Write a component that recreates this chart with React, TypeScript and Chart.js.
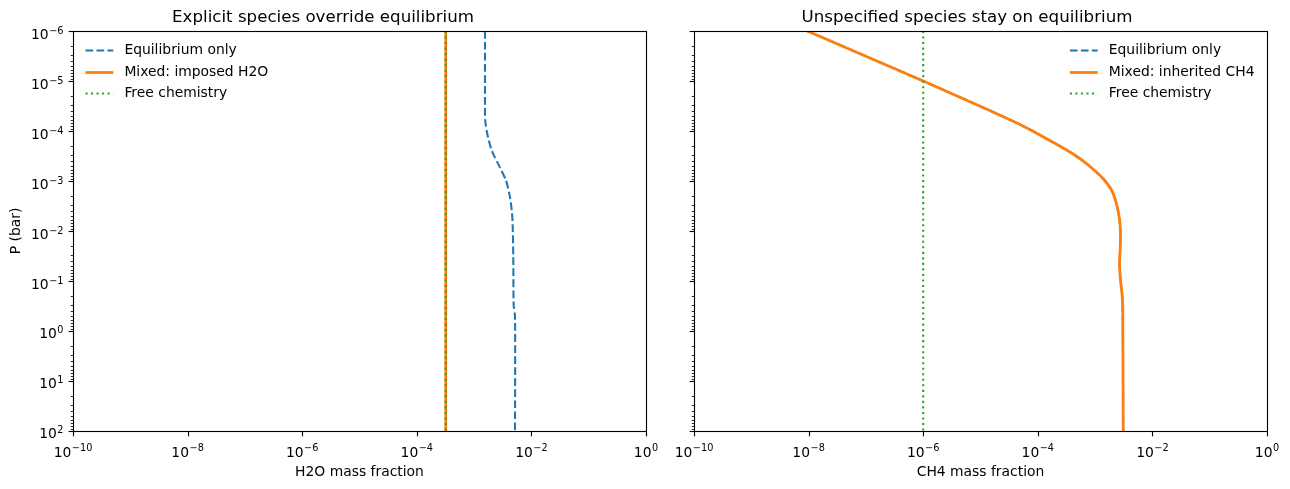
import React, { useEffect, useRef } from 'react';
import { Chart, registerables } from 'chart.js';

Chart.register(...registerables);

const FONT = 'DejaVu Sans';

// ---------- Data ----------
// Left panel: H2O mass fraction vs pressure (bar)
const h2oEqPressure = [1e-6, 3e-5, 6e-5, 1.15e-4, 2.45e-4, 5.4e-4, 9.8e-4, 2.1e-3, 5.4e-3, 3.3e-2, 0.3, 0.52, 100];
const h2oEqFraction = [1.55e-3, 1.55e-3, 1.56e-3, 1.7e-3, 2.03e-3, 2.83e-3, 3.61e-3, 4.23e-3, 4.65e-3, 4.83e-3, 4.9e-3, 5.18e-3, 5.18e-3];
const h2oImposedPressure = [1e-6, 100];
const h2oImposedFraction = [3.2e-4, 3.2e-4];
const h2oFreePressure = [1e-6, 100];
const h2oFreeFraction = [3.2e-4, 3.2e-4];

// Right panel: CH4 mass fraction vs pressure (bar)
const ch4EqPressure = [1e-6, 1e-5, 3.9e-5, 7.9e-5, 1.82e-4, 3.16e-4, 5.0e-4, 8.7e-4, 1.48e-3, 2.75e-3, 5.9e-3, 1.1e-2, 2.34e-2, 4.4e-2, 9.3e-2, 0.2, 0.37, 100];
const ch4EqFraction = [9.5e-9, 1e-6, 1.45e-5, 5.5e-5, 2.09e-4, 4.68e-4, 7.94e-4, 1.35e-3, 1.91e-3, 2.34e-3, 2.67e-3, 2.77e-3, 2.74e-3, 2.67e-3, 2.77e-3, 2.97e-3, 3.04e-3, 3.09e-3];
const ch4MixedPressure = [1e-6, 1e-5, 3.9e-5, 7.9e-5, 1.82e-4, 3.16e-4, 5.0e-4, 8.7e-4, 1.48e-3, 2.75e-3, 5.9e-3, 1.1e-2, 2.34e-2, 4.4e-2, 9.3e-2, 0.2, 0.37, 100];
const ch4MixedFraction = [9.5e-9, 1e-6, 1.45e-5, 5.5e-5, 2.09e-4, 4.68e-4, 7.94e-4, 1.35e-3, 1.91e-3, 2.34e-3, 2.67e-3, 2.77e-3, 2.74e-3, 2.67e-3, 2.77e-3, 2.97e-3, 3.04e-3, 3.09e-3];
const ch4FreePressure = [1e-6, 100];
const ch4FreeFraction = [1e-6, 1e-6];

// Text
const leftTitle = 'Explicit species override equilibrium';
const rightTitle = 'Unspecified species stay on equilibrium';
const leftXLabel = 'H2O mass fraction';
const rightXLabel = 'CH4 mass fraction';
const yLabel = 'P (bar)';
const leftSeriesLabels = ['Equilibrium only', 'Mixed: imposed H2O', 'Free chemistry'];
const rightSeriesLabels = ['Equilibrium only', 'Mixed: inherited CH4', 'Free chemistry'];

// Ticks
const xMajorExponents = [-10, -8, -6, -4, -2, 0];
const yMajorExponents = [-6, -5, -4, -3, -2, -1, 0, 1, 2];
const yMinorMultipliers = [2, 3, 4, 5, 6, 7, 8, 9];

// ---------- Helpers ----------
const pts = (xs: number[], ys: number[]) => xs.map((x, i) => ({ x, y: ys[i] }));

const xTicks = () => xMajorExponents.map((e) => ({ value: Math.pow(10, e), major: true, exp: e }));
const yTicks = () => {
  const out: { value: number; major: boolean; exp?: number }[] = [];
  yMajorExponents.forEach((e, i) => {
    out.push({ value: Math.pow(10, e), major: true, exp: e });
    if (i < yMajorExponents.length - 1) {
      yMinorMultipliers.forEach((m) => out.push({ value: m * Math.pow(10, e), major: false }));
    }
  });
  return out;
};

const BASE_FONT = `13.89px "${FONT}"`;
const SUP_FONT = `9.72px "${FONT}"`;

// draws "10" with a raised exponent, like matplotlib's mathtext
const drawPow = (ctx: CanvasRenderingContext2D, e: number, x: number, yBase: number, align: 'center' | 'right') => {
  const base = '10';
  const exp = String(e).replace('-', '\u2212');
  ctx.font = BASE_FONT;
  const wb = ctx.measureText(base).width;
  ctx.font = SUP_FONT;
  const we = ctx.measureText(exp).width;
  const total = wb + we + 0.5;
  const left = align === 'center' ? x - total / 2 : x - total;
  ctx.textAlign = 'left';
  ctx.textBaseline = 'alphabetic';
  ctx.fillStyle = '#000';
  ctx.font = BASE_FONT;
  ctx.fillText(base, left, yBase);
  ctx.font = SUP_FONT;
  ctx.fillText(exp, left + wb + 0.5, yBase - 5.5);
};

const BLUE = '#1f77b4';
const ORANGE = '#ff7f0e';
const GREEN = '#2ca02c';

const makeDatasets = (
  labels: string[],
  eq: { x: number; y: number }[],
  mixed: { x: number; y: number }[],
  free: { x: number; y: number }[],
) => [
  {
    label: labels[0], data: eq, showLine: true, pointRadius: 0, borderColor: BLUE, backgroundColor: BLUE,
    borderWidth: 2.08, borderDash: [7.7, 3.3], borderJoinStyle: 'round', tension: 0.25, order: 3,
  },
  {
    label: labels[1], data: mixed, showLine: true, pointRadius: 0, borderColor: ORANGE, backgroundColor: ORANGE,
    borderWidth: 2.78, borderDash: [], borderJoinStyle: 'round', tension: 0.25, order: 2,
  },
  {
    label: labels[2], data: free, showLine: true, pointRadius: 0, borderColor: GREEN, backgroundColor: GREEN,
    borderWidth: 2.08, borderDash: [2.08, 3.44], borderJoinStyle: 'round', order: 1,
  },
];

const framePlugin = (align: 'left' | 'right', showYLabels: boolean) => ({
  id: 'mplFrame',
  afterDatasetsDraw(chart: any) {
    const { ctx, chartArea: a } = chart;
    ctx.save();
    ctx.strokeStyle = '#000';
    ctx.setLineDash([]);
    const xs = chart.scales.x;
    const ys = chart.scales.y;
    // x ticks + labels
    for (const t of xs.ticks) {
      const px = Math.round(xs.getPixelForValue(t.value)) + 0.5;
      const len = t.major ? 4.86 : 2.78;
      ctx.lineWidth = t.major ? 1.11 : 0.83;
      ctx.beginPath();
      ctx.moveTo(px, a.bottom + 0.5);
      ctx.lineTo(px, a.bottom + 0.5 + len);
      ctx.stroke();
      if (t.major && t.exp !== undefined) {
        drawPow(ctx, t.exp, xs.getPixelForValue(t.value), a.bottom + 25.5, 'center');
      }
    }
    // y ticks + labels
    for (const t of ys.ticks) {
      const py = Math.round(ys.getPixelForValue(t.value)) + 0.5;
      const len = t.major ? 4.86 : 2.78;
      ctx.lineWidth = t.major ? 1.11 : 0.83;
      ctx.beginPath();
      ctx.moveTo(a.left + 0.5, py);
      ctx.lineTo(a.left + 0.5 - len, py);
      ctx.stroke();
      if (showYLabels && t.major && t.exp !== undefined) {
        const yp = ys.getPixelForValue(t.value);
        drawPow(ctx, t.exp, a.left - 9.5, yp + (t.exp < 0 ? 8.3 : 7), 'right');
      }
    }
    ctx.lineWidth = 1.11;
    ctx.strokeRect(a.left + 0.5, a.top + 0.5, a.right - a.left, a.bottom - a.top);

    // legend (frameless, matplotlib style)
    const items = chart.data.datasets;
    ctx.font = BASE_FONT;
    ctx.textBaseline = 'middle';
    const widths = items.map((d: any) => ctx.measureText(d.label).width);
    const maxW = Math.max(...widths);
    const handleLen = 27.8;
    const gap = 11.1;
    const inset = 12.5;
    const x0 = align === 'left' ? a.left + inset : a.right - inset - maxW - gap - handleLen;
    items.forEach((d: any, i: number) => {
      const y = Math.round(a.top + 19 + i * 21.7) + 0.5;
      ctx.strokeStyle = d.borderColor;
      ctx.lineWidth = d.borderWidth;
      ctx.lineCap = 'butt';
      ctx.setLineDash(d.borderDash || []);
      ctx.beginPath();
      ctx.moveTo(x0, y);
      ctx.lineTo(x0 + handleLen, y);
      ctx.stroke();
      ctx.setLineDash([]);
      ctx.fillStyle = '#000';
      ctx.textAlign = 'left';
      ctx.fillText(d.label, x0 + handleLen + gap, y);
    });
    ctx.restore();
  },
});

const makeConfig = (opts: {
  datasets: any[];
  title: string;
  xLabel: string;
  showY: boolean;
  yWidth: number;
  rightPad: number;
  align: 'left' | 'right';
}): any => ({
  type: 'scatter',
  data: { datasets: opts.datasets },
  options: {
    responsive: false,
    animation: false,
    events: [],
    layout: { padding: { left: 0, right: opts.rightPad, top: 0, bottom: 0 } },
    plugins: {
      legend: { display: false },
      tooltip: { enabled: false },
      title: {
        display: true,
        text: opts.title,
        color: '#000',
        font: { family: FONT, size: 16.67, weight: 'normal' },
        padding: { top: 8, bottom: 3 },
      },
    },
    scales: {
      x: {
        type: 'logarithmic',
        position: 'bottom',
        min: 1e-10,
        max: 1,
        afterBuildTicks: (s: any) => { s.ticks = xTicks(); },
        afterFit: (s: any) => { s.height = 58; },
        grid: { display: false },
        border: { display: false },
        ticks: { display: false, autoSkip: false },
        title: {
          display: true,
          text: opts.xLabel,
          color: '#000',
          font: { family: FONT, size: 13.89 },
          padding: { top: 0, bottom: 8.7 },
        },
      },
      y: {
        type: 'logarithmic',
        position: 'left',
        min: 1e-6,
        max: 100,
        reverse: true,
        afterBuildTicks: (s: any) => { s.ticks = yTicks(); },
        afterFit: (s: any) => { s.width = opts.yWidth; },
        grid: { display: false },
        border: { display: false },
        ticks: { display: false, autoSkip: false },
        title: {
          display: opts.showY,
          text: yLabel,
          color: '#000',
          font: { family: FONT, size: 13.89 },
          padding: { top: 8, bottom: 0 },
        },
      },
    },
  },
  plugins: [framePlugin(opts.align, opts.showY)],
});

export default function App() {
  const leftRef = useRef<HTMLCanvasElement>(null);
  const rightRef = useRef<HTMLCanvasElement>(null);

  useEffect(() => {
    document.body.style.margin = '0';
    const left = new Chart(
      leftRef.current as HTMLCanvasElement,
      makeConfig({
        datasets: makeDatasets(
          leftSeriesLabels,
          pts(h2oEqFraction, h2oEqPressure),
          pts(h2oImposedFraction, h2oImposedPressure),
          pts(h2oFreeFraction, h2oFreePressure),
        ),
        title: leftTitle,
        xLabel: leftXLabel,
        showY: true,
        yWidth: 73,
        rightPad: 21,
        align: 'left',
      }),
    );
    const right = new Chart(
      rightRef.current as HTMLCanvasElement,
      makeConfig({
        datasets: makeDatasets(
          rightSeriesLabels,
          pts(ch4EqFraction, ch4EqPressure),
          pts(ch4MixedFraction, ch4MixedPressure),
          pts(ch4FreeFraction, ch4FreePressure),
        ),
        title: rightTitle,
        xLabel: rightXLabel,
        showY: false,
        yWidth: 27,
        rightPad: 23,
        align: 'right',
      }),
    );
    return () => {
      left.destroy();
      right.destroy();
    };
  }, []);

  return (
    <div style={{ position: 'relative', width: 1290, height: 489, background: '#fff' }}>
      <canvas ref={leftRef} width={667} height={489} style={{ position: 'absolute', left: 0, top: 0 }} />
      <canvas ref={rightRef} width={623} height={489} style={{ position: 'absolute', left: 667, top: 0 }} />
    </div>
  );
}
